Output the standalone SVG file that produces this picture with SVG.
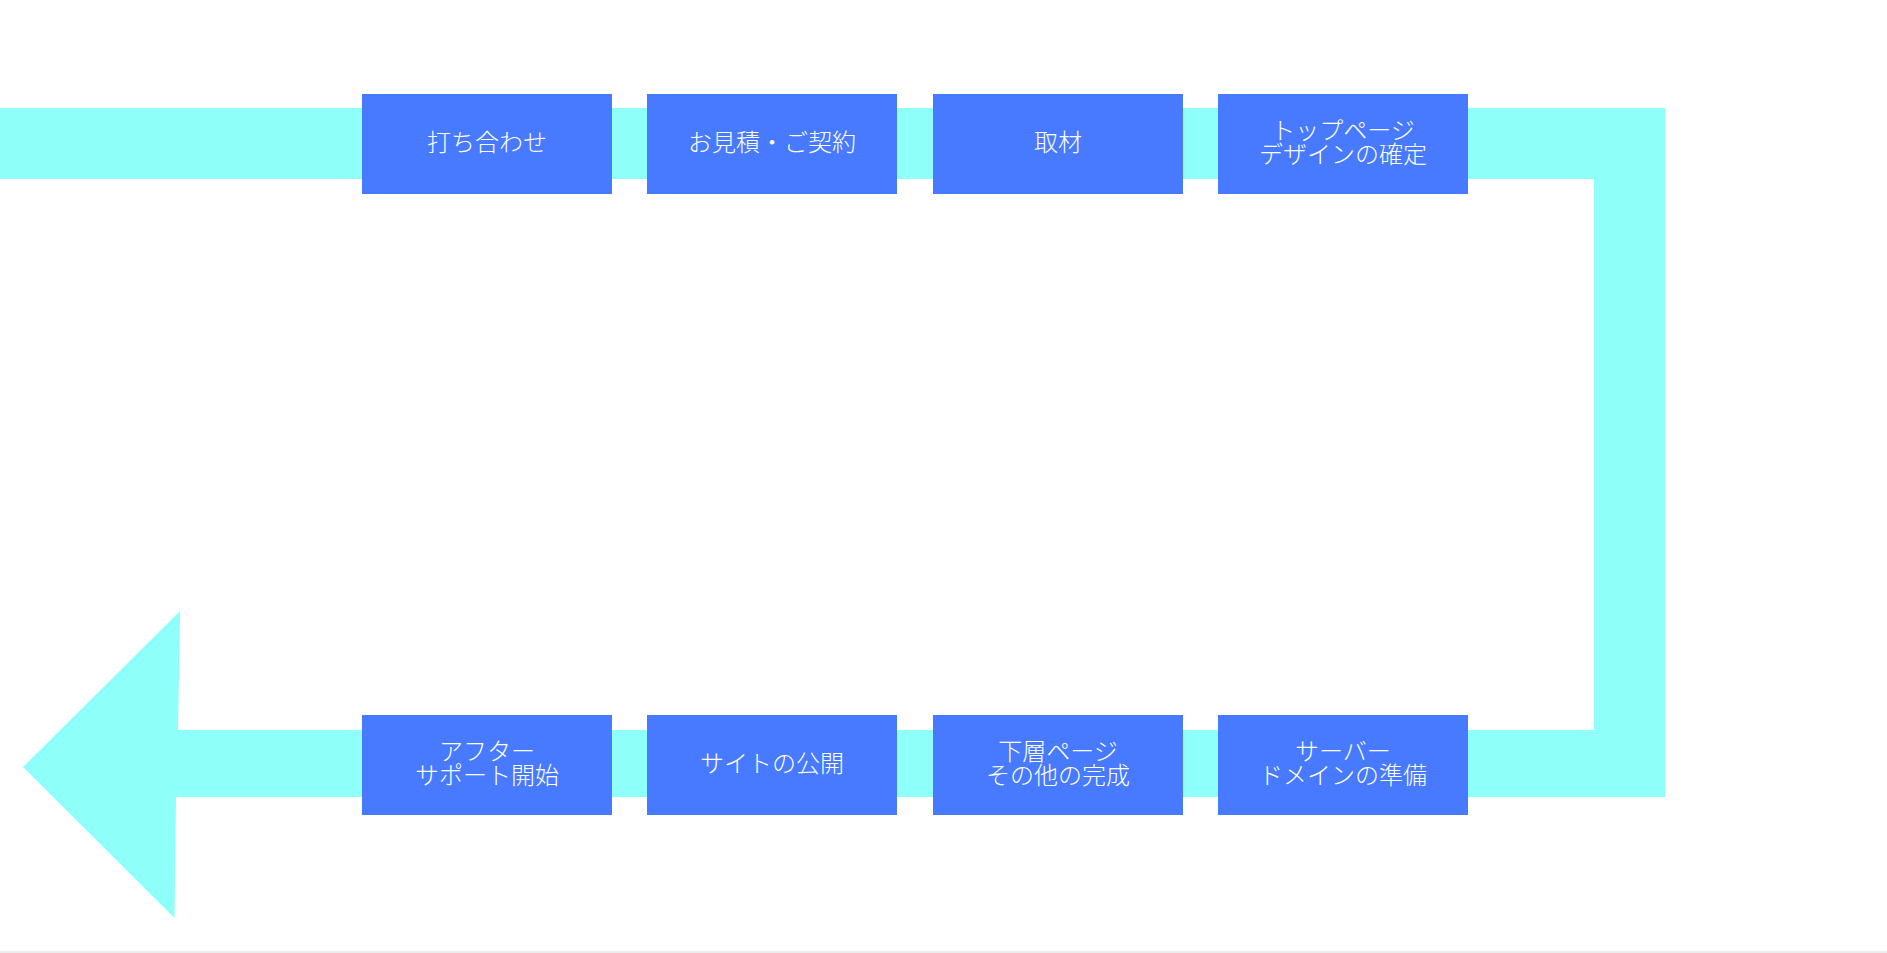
<svg xmlns="http://www.w3.org/2000/svg" width="1887" height="953" viewBox="0 0 1887 953">
<style>
.box{fill:#477aff}
.lbl{fill:#ffffff;font-family:"Noto Sans CJK JP","Noto Sans",sans-serif;font-size:24px;font-weight:300;text-anchor:middle}
.band{fill:#8ffffa}
</style>
<rect x="0" y="0" width="1887" height="953" fill="#ffffff"/>
<rect x="0" y="951" width="1887" height="2" fill="#ececec"/>
<g id="connectors">
<path class="band" d="M0,108 L1665,108 L1665,797 L176,797 L174.5,918 L23,767 L180,611 L178,730 L1594,730 L1594,179 L0,179 Z"/>
</g>
<g id="node1"><rect class="box" x="362" y="94" width="250" height="100"/><text class="lbl" x="487" y="150.5">打ち合わせ</text></g>
<g id="node2"><rect class="box" x="647" y="94" width="250" height="100"/><text class="lbl" x="772" y="150.5">お見積・ご契約</text></g>
<g id="node3"><rect class="box" x="933" y="94" width="250" height="100"/><text class="lbl" x="1058" y="150.5">取材</text></g>
<g id="node4"><rect class="box" x="1218" y="94" width="250" height="100"/><text class="lbl" x="1343" y="138.5">トップページ<tspan x="1343" dy="24.5">デザインの確定</tspan></text></g>
<g id="node5"><rect class="box" x="1218" y="715" width="250" height="100"/><text class="lbl" x="1343" y="759.5">サーバー<tspan x="1343" dy="24.5">ドメインの準備</tspan></text></g>
<g id="node6"><rect class="box" x="933" y="715" width="250" height="100"/><text class="lbl" x="1058" y="759.5">下層ページ<tspan x="1058" dy="24.5">その他の完成</tspan></text></g>
<g id="node7"><rect class="box" x="647" y="715" width="250" height="100"/><text class="lbl" x="772" y="771.5">サイトの公開</text></g>
<g id="node8"><rect class="box" x="362" y="715" width="250" height="100"/><text class="lbl" x="487" y="759.5">アフター<tspan x="487" dy="24.5">サポート開始</tspan></text></g>
</svg>
